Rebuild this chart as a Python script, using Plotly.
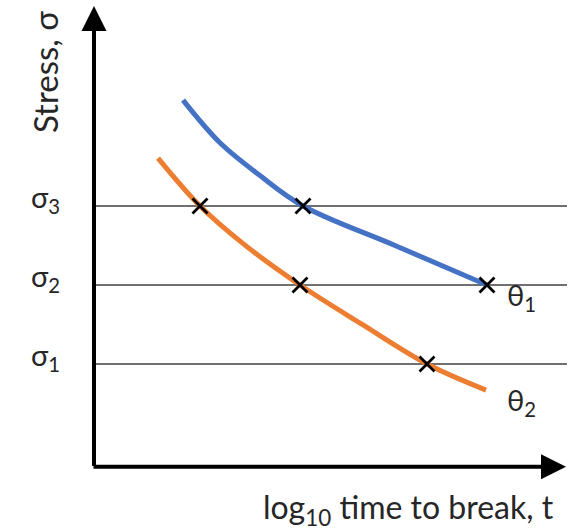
import plotly.graph_objects as go

# Stress-rupture schematic: stress vs log10 time to break at two temperatures
sigma_levels = [2.6, 4.6, 6.6]
sigma_labels = ["σ<sub>1</sub>", "σ<sub>2</sub>", "σ<sub>3</sub>"]

theta1_t = [1.78, 2.52, 3.32, 4.18, 6.02, 7.86]
theta1_s = [9.28, 8.20, 7.37, 6.60, 5.60, 4.60]

theta2_t = [1.28, 2.12, 3.02, 4.12, 5.38, 6.66, 7.84]
theta2_s = [7.81, 6.60, 5.61, 4.60, 3.59, 2.60, 1.94]

# rupture points where each curve crosses a stress level
break_t = [2.12, 4.12, 6.66, 4.18, 7.86]
break_s = [6.60, 4.60, 2.60, 6.60, 4.60]

line_end = 9.46
FONT = "Lato"
TXT = "#262626"

fig = go.Figure()

for s in sigma_levels:
    fig.add_trace(go.Scatter(x=[0.04, line_end], y=[s, s], mode="lines",
                             line=dict(color="#404040", width=1.4),
                             hoverinfo="skip", showlegend=False))

fig.add_trace(go.Scatter(x=theta1_t, y=theta1_s, mode="lines",
                         line=dict(color="#4472C4", width=5, shape="spline",
                                   smoothing=1),
                         showlegend=False))
fig.add_trace(go.Scatter(x=theta2_t, y=theta2_s, mode="lines",
                         line=dict(color="#ED7D31", width=5, shape="spline",
                                   smoothing=1),
                         showlegend=False))
fig.add_trace(go.Scatter(x=break_t, y=break_s, mode="markers",
                         marker=dict(symbol="x-thin", size=15,
                                     line=dict(color="black", width=2.8)),
                         showlegend=False))

# axes drawn as arrows from the origin
fig.add_annotation(x=0, y=11.66, ax=0, ay=-0.02, xref="x", yref="y",
                   axref="x", ayref="y", showarrow=True, arrowhead=2,
                   arrowsize=1.25, arrowwidth=4, arrowcolor="black", text="")
fig.add_annotation(x=9.44, y=0, ax=-0.04, ay=0, xref="x", yref="y",
                   axref="x", ayref="y", showarrow=True, arrowhead=2,
                   arrowsize=1.25, arrowwidth=4, arrowcolor="black", text="")

for s, lab in zip(sigma_levels, sigma_labels):
    fig.add_annotation(x=-0.98, y=s + 0.2, text=lab, showarrow=False,
                       font=dict(family=FONT, size=29, color=TXT))

fig.add_annotation(x=8.55, y=4.3, text="θ<sub>1</sub>", showarrow=False,
                   font=dict(family=FONT, size=29, color=TXT))
fig.add_annotation(x=8.55, y=1.66, text="θ<sub>2</sub>", showarrow=False,
                   font=dict(family=FONT, size=29, color=TXT))

fig.add_annotation(x=-0.98, y=9.99, text="Stress, σ", textangle=-90,
                   showarrow=False, font=dict(family=FONT, size=33, color=TXT))
fig.add_annotation(x=6.29, y=-1.06, text="log<sub>10</sub> time to break, t",
                   showarrow=False, font=dict(family=FONT, size=32, color=TXT))

fig.update_xaxes(range=[-1.88, 9.62], visible=False, fixedrange=True)
fig.update_yaxes(range=[-1.628, 11.815], visible=False, fixedrange=True)
fig.update_layout(width=575, height=531, margin=dict(l=0, r=0, t=0, b=0),
                  plot_bgcolor="white", paper_bgcolor="white")

fig.write_html("out.html")
